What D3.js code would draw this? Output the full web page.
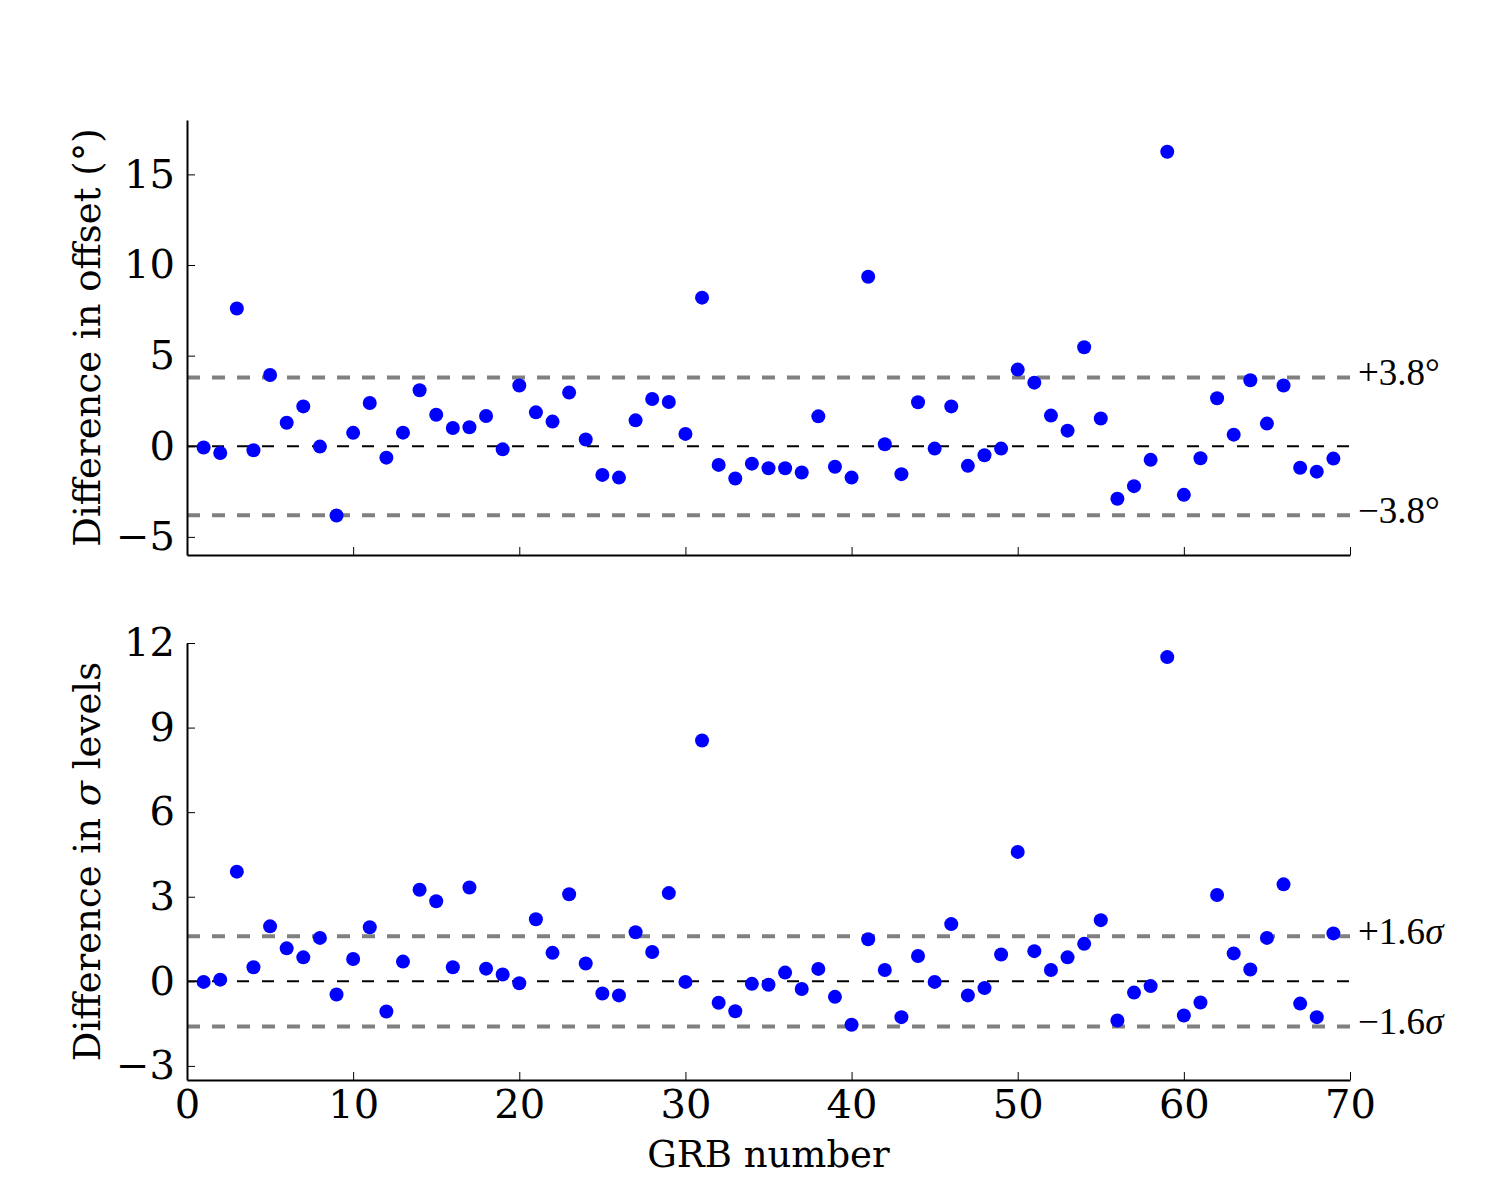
<!DOCTYPE html>
<html>
<head>
<meta charset="utf-8">
<script src="https://cdn.jsdelivr.net/npm/d3@7"></script>
<style>
	body { margin: 0; background: #fff; }
	svg text { font-family: "DejaVu Serif", serif; fill: #000; }
	.axis path, .axis line { stroke: #000; }
</style>
</head>
<body>
<div id="chart"></div>
<script>
// GRB index 1..69
const grbNumbers = d3.range(1, 70);

// difference in offset (degrees)
const offsetDiff = [
	-0.07, -0.37, 7.6, -0.22, 3.93, 1.3, 2.2, -0.02, -3.82, 0.74,
	2.39, -0.63, 0.75, 3.09, 1.74, 1.01, 1.05, 1.67, -0.17, 3.35,
	1.87, 1.36, 2.96, 0.37, -1.58, -1.73, 1.43, 2.61, 2.44, 0.68,
	8.2, -1.03, -1.78, -0.96, -1.21, -1.21, -1.45, 1.65, -1.13, -1.73,
	9.35, 0.11, -1.54, 2.43, -0.13, 2.2, -1.08, -0.5, -0.13, 4.23,
	3.51, 1.69, 0.86, 5.46, 1.53, -2.9, -2.2, -0.75, 16.25, -2.68,
	-0.66, 2.65, 0.64, 3.64, 1.25, 3.35, -1.19, -1.4, -0.68
];

// difference in sigma levels
const sigmaDiff = [
	-0.02, 0.06, 3.89, 0.5, 1.95, 1.17, 0.85, 1.54, -0.47, 0.79,
	1.92, -1.07, 0.7, 3.25, 2.84, 0.5, 3.33, 0.45, 0.24, -0.07,
	2.2, 1.01, 3.09, 0.63, -0.43, -0.5, 1.74, 1.04, 3.13, -0.02,
	8.54, -0.76, -1.06, -0.09, -0.12, 0.31, -0.27, 0.44, -0.55, -1.54,
	1.49, 0.4, -1.27, 0.9, -0.02, 2.03, -0.5, -0.24, 0.95, 4.59,
	1.07, 0.4, 0.85, 1.33, 2.17, -1.39, -0.4, -0.17, 11.5, -1.21,
	-0.75, 3.06, 0.99, 0.42, 1.54, 3.44, -0.79, -1.27, 1.7
];

const xTicks = [0, 10, 20, 30, 40, 50, 60, 70];
const offsetTicks = [-5, 0, 5, 10, 15];
const sigmaTicks = [-3, 0, 3, 6, 9, 12];
const offsetLimit = 3.8;
const sigmaLimit = 1.6;

const width = 1500, height = 1200;
const left = 187, right = 1350;

const svg = d3.select("#chart").append("svg")
	.attr("width", width)
	.attr("height", height);

const x = d3.scaleLinear().domain([0, 70]).range([left, right]);

function panel(opts) {
	const y = d3.scaleLinear().domain(opts.domain).range([opts.bottom, opts.top]);
	const g = svg.append("g");

	// threshold lines
	[opts.limit, -opts.limit].forEach(v => {
		g.append("line")
			.attr("x1", x(0)).attr("x2", x(70))
			.attr("y1", y(v)).attr("y2", y(v))
			.attr("stroke", "#808080")
			.attr("stroke-width", 4)
			.attr("stroke-dasharray", "13,12");
	});
	g.append("line")
		.attr("x1", x(0)).attr("x2", x(70))
		.attr("y1", y(0)).attr("y2", y(0))
		.attr("stroke", "#000")
		.attr("stroke-width", 2)
		.attr("stroke-dasharray", "12,13");

	// threshold labels
	g.append("text")
		.attr("x", 1358).attr("y", y(opts.limit) + 8)
		.style("font-size", "37px")
		.style("font-family", "'Liberation Serif', serif")
		.html(opts.plusLabel);
	g.append("text")
		.attr("x", 1358).attr("y", y(-opts.limit) + 8)
		.style("font-size", "37px")
		.style("font-family", "'Liberation Serif', serif")
		.html(opts.minusLabel);

	// points
	g.selectAll("circle")
		.data(opts.values)
		.enter().append("circle")
		.attr("cx", (d, i) => x(grbNumbers[i]))
		.attr("cy", d => y(d))
		.attr("r", 7)
		.attr("fill", "#0000ff");

	// axes (ticks inward)
	const yAxis = g.append("g")
		.attr("class", "axis")
		.attr("transform", `translate(${left},0)`)
		.call(d3.axisLeft(y).tickValues(opts.ticks)
			.tickSizeInner(-8).tickSizeOuter(0).tickPadding(12)
			.tickFormat(d => d < 0 ? "\u2212" + Math.abs(d) : d));
	yAxis.select(".domain").attr("stroke-width", 2);
	yAxis.selectAll("text").style("font-size", "40px");

	const xAxis = g.append("g")
		.attr("class", "axis")
		.attr("transform", `translate(0,${opts.bottom})`)
		.call(d3.axisBottom(x).tickValues(xTicks)
			.tickSizeInner(-8).tickSizeOuter(0).tickPadding(10)
			.tickFormat(opts.showX ? d3.format("d") : ""));
	xAxis.select(".domain").attr("stroke-width", 2);
	xAxis.selectAll("text").style("font-size", "40px");

	// y label
	g.append("text")
		.attr("transform", `translate(100,${(opts.top + opts.bottom) / 2}) rotate(-90)`)
		.attr("text-anchor", "middle")
		.style("font-size", "37px")
		.html(opts.label);
}

panel({
	values: offsetDiff,
	domain: [-6, 18],
	top: 120, bottom: 555,
	ticks: offsetTicks,
	limit: offsetLimit,
	plusLabel: "+3.8°",
	minusLabel: "\u22123.8°",
	label: "Difference in offset (°)",
	showX: false
});

panel({
	values: sigmaDiff,
	domain: [-3.5, 12],
	top: 643, bottom: 1080,
	ticks: sigmaTicks,
	limit: sigmaLimit,
	plusLabel: "+1.6<tspan font-style='italic'>σ</tspan>",
	minusLabel: "\u22121.6<tspan font-style='italic'>σ</tspan>",
	label: "Difference in <tspan font-style='italic'>σ</tspan> levels",
	showX: true
});

svg.append("text")
	.attr("x", (left + right) / 2)
	.attr("y", 1167)
	.attr("text-anchor", "middle")
	.style("font-size", "37px")
	.text("GRB number");
</script>
</body>
</html>
